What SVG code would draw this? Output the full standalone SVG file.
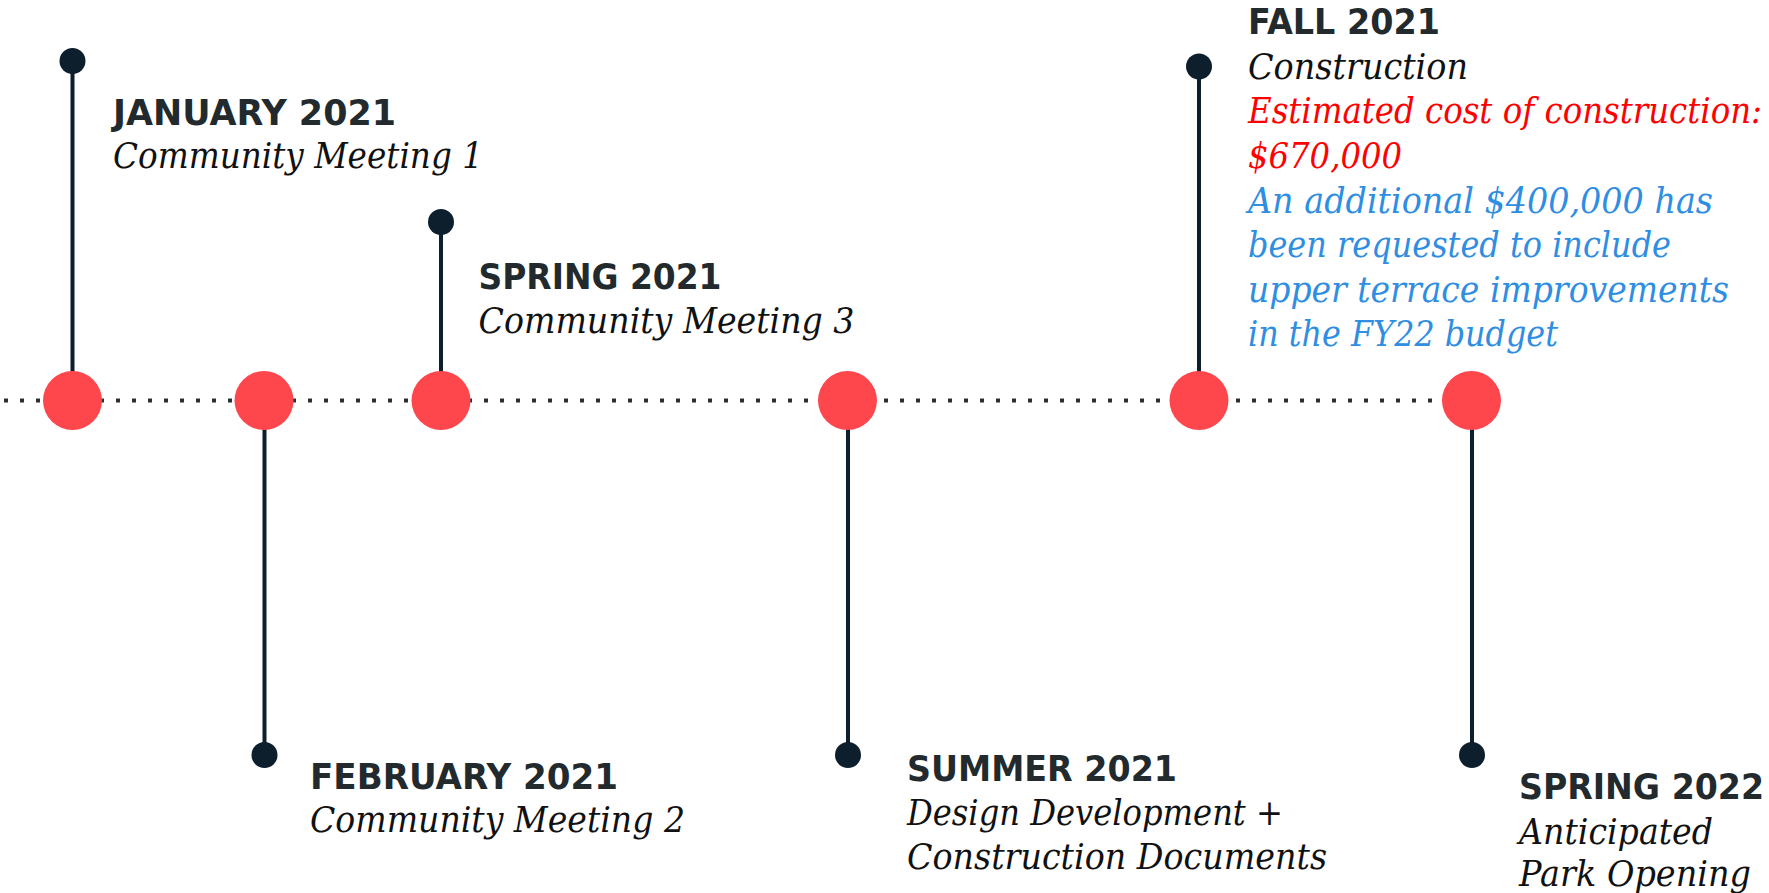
<svg xmlns="http://www.w3.org/2000/svg" width="1769" height="893" viewBox="0 0 1769 893">
<style>
.title{font-family:"DejaVu Sans","Liberation Sans",sans-serif;font-weight:bold;font-size:35px;fill:#222a2d}
.body{font-family:"DejaVu Serif","Liberation Serif",serif;font-style:italic;font-size:35px;fill:#111111}
.red{fill:#ff0000}
.blue{fill:#2f8ee2}
.stem{stroke:#0d1f2d;stroke-width:4;fill:none}
.axis{stroke:#2a2f33;stroke-width:4;stroke-dasharray:4 12;fill:none}
.dot{fill:#0d1f2d}
.event{fill:#fe474c}
</style>
<rect width="1769" height="893" fill="#ffffff"/>
<g id="connectors">
<line class="axis" x1="4" y1="400.5" x2="1436" y2="400.5"/>
<line class="stem" x1="72.5" y1="61" x2="72.5" y2="372"/>
<line class="stem" x1="441" y1="222" x2="441" y2="372"/>
<line class="stem" x1="1199" y1="66.5" x2="1199" y2="372"/>
<line class="stem" x1="264.5" y1="429" x2="264.5" y2="755"/>
<line class="stem" x1="848" y1="429" x2="848" y2="755"/>
<line class="stem" x1="1472" y1="429" x2="1472" y2="755"/>
</g>
<g id="node-jan2021">
<circle class="dot" cx="72.5" cy="61" r="13"/>
<circle class="event" cx="72.5" cy="400.5" r="29.5"/>
<text class="title" x="113" y="124.5" textLength="283" lengthAdjust="spacingAndGlyphs">JANUARY 2021</text>
<text class="body" x="113" y="168" textLength="370" lengthAdjust="spacingAndGlyphs">Community Meeting 1</text>
</g>
<g id="node-feb2021">
<circle class="event" cx="264" cy="400.5" r="29.5"/>
<circle class="dot" cx="264.5" cy="755" r="13"/>
<text class="title" x="310" y="788.5" textLength="308" lengthAdjust="spacingAndGlyphs">FEBRUARY 2021</text>
<text class="body" x="310" y="831.5" textLength="375" lengthAdjust="spacingAndGlyphs">Community Meeting 2</text>
</g>
<g id="node-spring2021">
<circle class="dot" cx="441" cy="222" r="13"/>
<circle class="event" cx="441" cy="400.5" r="29.5"/>
<text class="title" x="478.5" y="288.5" textLength="243" lengthAdjust="spacingAndGlyphs">SPRING 2021</text>
<text class="body" x="478.5" y="332.5" textLength="376" lengthAdjust="spacingAndGlyphs">Community Meeting 3</text>
</g>
<g id="node-summer2021">
<circle class="event" cx="847.5" cy="400.5" r="29.5"/>
<circle class="dot" cx="848" cy="755" r="13"/>
<text class="title" x="907" y="780.5" textLength="270" lengthAdjust="spacingAndGlyphs">SUMMER 2021</text>
<text class="body" x="907" y="824.5" textLength="376" lengthAdjust="spacingAndGlyphs">Design Development +</text>
<text class="body" x="907" y="868.5" textLength="420" lengthAdjust="spacingAndGlyphs">Construction Documents</text>
</g>
<g id="node-fall2021">
<circle class="dot" cx="1199" cy="66.5" r="13"/>
<circle class="event" cx="1199" cy="400.5" r="29.5"/>
<text class="title" x="1248" y="34" textLength="192" lengthAdjust="spacingAndGlyphs">FALL 2021</text>
<text class="body" x="1248" y="78.5" textLength="220" lengthAdjust="spacingAndGlyphs">Construction</text>
<text class="body red" x="1248" y="123" textLength="514" lengthAdjust="spacingAndGlyphs">Estimated cost of construction:</text>
<text class="body red" x="1248" y="167.5" textLength="154" lengthAdjust="spacingAndGlyphs">$670,000</text>
<text class="body blue" x="1248" y="212.5" textLength="465" lengthAdjust="spacingAndGlyphs">An additional $400,000 has</text>
<text class="body blue" x="1248" y="257" textLength="423" lengthAdjust="spacingAndGlyphs">been requested to include</text>
<text class="body blue" x="1248" y="301.5" textLength="481" lengthAdjust="spacingAndGlyphs">upper terrace improvements</text>
<text class="body blue" x="1248" y="345.5" textLength="310" lengthAdjust="spacingAndGlyphs">in the FY22 budget</text>
</g>
<g id="node-spring2022">
<circle class="event" cx="1471.5" cy="400.5" r="29.5"/>
<circle class="dot" cx="1472" cy="755" r="13"/>
<text class="title" x="1519" y="798.5" textLength="245" lengthAdjust="spacingAndGlyphs">SPRING 2022</text>
<text class="body" x="1519" y="843.5" textLength="194" lengthAdjust="spacingAndGlyphs">Anticipated</text>
<text class="body" x="1519" y="886" textLength="232" lengthAdjust="spacingAndGlyphs">Park Opening</text>
</g>
</svg>
